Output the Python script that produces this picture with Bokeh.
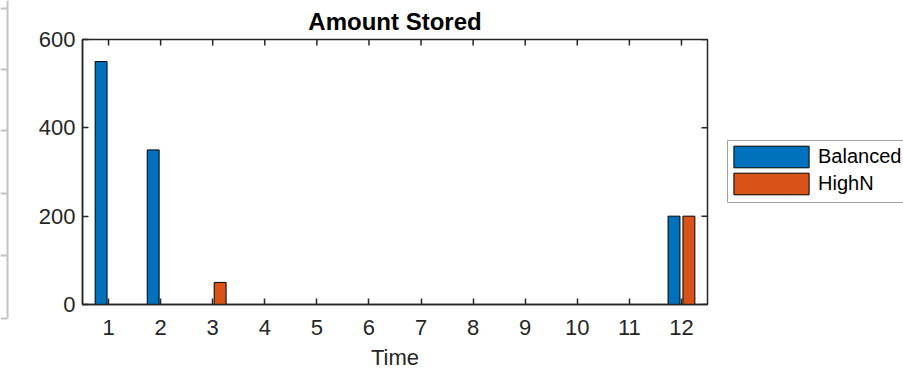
import math
from bokeh.plotting import figure
from bokeh.models import Range1d, FixedTicker, Legend, LegendItem, ColumnDataSource
from bokeh.transform import dodge
from bokeh.layouts import row
from bokeh.embed import file_html
from bokeh.resources import INLINE

# ---- data ----
time = [1, 2, 3, 4, 5, 6, 7, 8, 9, 10, 11, 12]
balanced = [550, 350, 0, 0, 0, 0, 0, 0, 0, 0, 0, 200]
highn = [0, 0, 50, 0, 0, 0, 0, 0, 0, 0, 0, 200]
y_ticks = [0, 200, 400, 600]
series_names = ["Balanced", "HighN"]
series_colors = ["#0072BD", "#D95319"]

AX = "#262626"
FONT = "Liberation Sans"
X_MIN, X_MAX = 0.5, 12.5
Y_MIN, Y_MAX = 0, 600
BAR_W = 0.2286
BAR_OFF = 0.1429
H = 372

src = ColumnDataSource(dict(time=time, balanced=balanced, highn=highn))

# ---- main axes ----
p = figure(width=702, height=H, output_backend="svg", toolbar_location=None,
           x_range=Range1d(X_MIN, X_MAX), y_range=Range1d(Y_MIN, Y_MAX),
           min_border_left=73, min_border_right=4,
           min_border_top=38, min_border_bottom=67,
           x_axis_label="Time")
p.grid.visible = False
p.outline_line_color = AX
p.outline_line_width = 1.5
p.background_fill_color = "white"
p.border_fill_color = "white"

bar_style = dict(line_color="black", line_width=1)
r1 = p.vbar(x=dodge("time", -BAR_OFF), top="balanced", width=BAR_W, source=src,
            fill_color=series_colors[0], **bar_style)
r2 = p.vbar(x=dodge("time", BAR_OFF), top="highn", width=BAR_W, source=src,
            fill_color=series_colors[1], **bar_style)

for ax in (p.xaxis[0], p.yaxis[0]):
    ax.axis_line_color = AX
    ax.axis_line_width = 1.5
    ax.major_tick_line_color = AX
    ax.major_tick_line_width = 1.5
    ax.major_tick_in = 6
    ax.major_tick_out = 0
    ax.minor_tick_line_color = None
    ax.major_label_text_font = FONT
    ax.major_label_text_font_size = "22px"
    ax.major_label_text_color = AX

p.xaxis.ticker = FixedTicker(ticks=time)
p.yaxis.ticker = FixedTicker(ticks=y_ticks)
p.xaxis.major_label_standoff = 15
p.yaxis.major_label_standoff = 7
p.xaxis.axis_label_text_font = FONT
p.xaxis.axis_label_text_font_size = "22px"
p.xaxis.axis_label_text_font_style = "normal"
p.xaxis.axis_label_text_color = AX
p.xaxis.axis_label_standoff = 7

# inward ticks along the top and right edges of the box (half of each dash
# falls outside the frame and is clipped away)
p.scatter(x=time, y=[Y_MAX] * len(time), marker="dash", size=12,
          angle=math.pi / 2, line_color=AX, line_width=1.5)
p.scatter(x=[X_MAX] * len(y_ticks), y=y_ticks, marker="dash", size=12,
          line_color=AX, line_width=1.5)

p.title.text = "Amount Stored"
p.title.align = "center"
p.title.text_font = FONT
p.title.text_font_size = "24px"
p.title.text_font_style = "bold"
p.title.text_color = "black"
p.title.standoff = 10

# ---- legend panel (pixel coordinates, y downwards) ----
LG_W = 192
lg = figure(width=LG_W, height=H, output_backend="svg", toolbar_location=None,
            x_range=Range1d(0, LG_W), y_range=Range1d(H, 0), min_border=0,
            x_axis_location=None, y_axis_location=None, frame_align=False)
lg.grid.visible = False
lg.outline_line_color = None
# key swatch renderers, drawn first and hidden beneath the legend box
k1 = lg.vbar(x=[100], top=[150], bottom=[160], width=10,
             fill_color=series_colors[0], **bar_style)
k2 = lg.vbar(x=[100], top=[175], bottom=[185], width=10,
             fill_color=series_colors[1], **bar_style)
# legend box
lg.quad(left=[16], right=[LG_W + 10], top=[140], bottom=[202],
        fill_color="white", line_color="#a0a0a0", line_width=1)
legend = Legend(items=[LegendItem(label=series_names[0], renderers=[k1]),
                       LegendItem(label=series_names[1], renderers=[k2])],
                location=(13, 175), orientation="vertical",
                glyph_width=94, glyph_height=27, spacing=0, padding=0,
                label_standoff=0, margin=0,
                label_text_font=FONT, label_text_font_size="20px",
                label_text_color="black",
                border_line_color=None, background_fill_color=None)
lg.add_layout(legend, "center")

# ---- edge of a neighbouring panel at the far left ----
strip = figure(width=9, height=H, output_backend="svg", toolbar_location=None,
               x_range=Range1d(0, 9), y_range=Range1d(H, 0),
               min_border=0, x_axis_location=None, y_axis_location=None,
               frame_align=False)
strip.grid.visible = False
strip.outline_line_color = None
edge_x = 7
edge_end = 318
edge_ticks = [8, 69, 130, 193, 255, 318]
strip.segment(x0=[edge_x], y0=[0], x1=[edge_x], y1=[edge_end],
              line_color="#c4c4c4", line_width=2)
strip.segment(x0=[0] * len(edge_ticks), y0=edge_ticks,
              x1=[edge_x] * len(edge_ticks), y1=edge_ticks,
              line_color="#c4c4c4", line_width=2)

layout = row(strip, p, lg, spacing=0)
open("out.html", "w").write(file_html(layout, INLINE))
